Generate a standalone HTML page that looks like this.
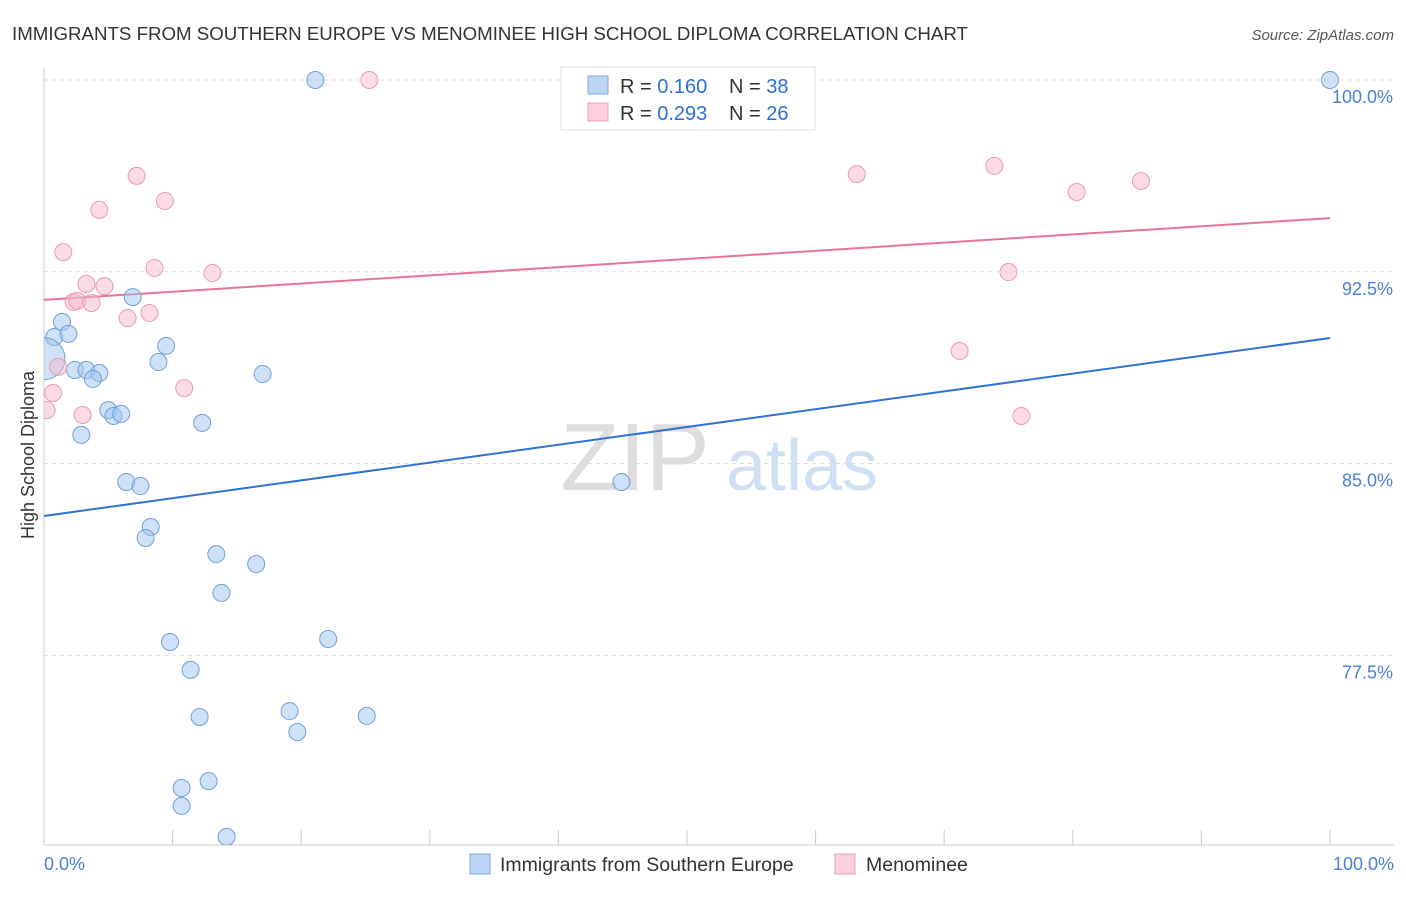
<!DOCTYPE html>
<html><head><meta charset="utf-8"><style>
body{margin:0;background:#fff;font-family:"Liberation Sans",sans-serif}
svg text{font-family:"Liberation Sans",sans-serif}
</style></head><body>
<svg width="1406" height="892" viewBox="0 0 1406 892" xmlns="http://www.w3.org/2000/svg">
<defs><clipPath id="plotclip"><rect x="44" y="0" width="1362" height="845"/></clipPath></defs>
<text x="12" y="40" font-size="18.7" fill="#333">IMMIGRANTS FROM SOUTHERN EUROPE VS MENOMINEE HIGH SCHOOL DIPLOMA CORRELATION CHART</text>
<text x="1394" y="40" font-size="15" fill="#555" font-style="italic" text-anchor="end">Source: ZipAtlas.com</text>
<g>
<text x="635" y="490" font-size="96" fill="#ddd" font-family="Liberation Serif,serif" text-anchor="middle">ZIP</text>
<text x="802" y="490" font-size="72" fill="#cfe0f5" text-anchor="middle">atlas</text>
</g>
<g id="grid"></g>
<line x1="44" y1="68" x2="44" y2="845" stroke="#ccc"/>
<line x1="44" y1="845" x2="1394" y2="845" stroke="#ccc"/>
<g id="xticks"></g>
<text x="44" y="870" font-size="18" fill="#4a7fd4">0.0%</text>
<text x="1394" y="870" font-size="18" fill="#4a7fd4" text-anchor="end">100.0%</text>
<text transform="translate(34,455) rotate(-90)" font-size="18" fill="#333" text-anchor="middle">High School Diploma</text>
<g id="lines"></g>
<g id="pts" clip-path="url(#plotclip)"></g>
<g>
<rect x="561" y="67" width="254" height="63" fill="#fff" stroke="#ddd"/>
<rect x="588" y="76" width="20" height="18" fill="#bcd5f5" stroke="#7aa8e0"/>
<text x="620" y="93" font-size="20" fill="#333">R = <tspan fill="#2f6fd4">0.160</tspan></text>
<text x="729" y="93" font-size="20" fill="#333">N = <tspan fill="#2f6fd4">38</tspan></text>
<rect x="588" y="103" width="20" height="18" fill="#fbcfdc" stroke="#eaa0b8"/>
<text x="620" y="120" font-size="20" fill="#333">R = <tspan fill="#2f6fd4">0.293</tspan></text>
<text x="729" y="120" font-size="20" fill="#333">N = <tspan fill="#2f6fd4">26</tspan></text>
</g>
<g>
<rect x="470" y="854" width="20" height="20" fill="#bcd5f5" stroke="#7aa8e0"/>
<text x="500" y="871" font-size="19.5" fill="#333">Immigrants from Southern Europe</text>
<rect x="835" y="854" width="20" height="20" fill="#fbcfdc" stroke="#eaa0b8"/>
<text x="866" y="871" font-size="19.5" fill="#333">Menominee</text>
</g>
</svg>
<script>
const yTicks=[100,92.5,85,77.5];
const yTickLabels=["100.0%","92.5%","85.0%","77.5%"];
const blueX=[21.1,100,0.8,1.4,1.9,0,2.4,3.3,4.3,3.8,6.9,9.5,8.9,17.0,5.0,5.4,6.0,2.9,12.3,6.4,7.5,44.9,8.3,7.9,13.4,16.5,13.8,9.8,22.1,11.4,12.1,19.1,19.7,25.1,10.7,12.8,10.7,14.2];
const blueY=[100,100,89.95,90.54,90.07,89.1,88.66,88.66,88.54,88.31,91.51,89.6,88.97,88.5,87.09,86.86,86.94,86.12,86.59,84.28,84.12,84.28,82.52,82.09,81.46,81.07,79.94,78.02,78.14,76.93,75.09,75.32,74.5,75.13,72.31,72.58,71.61,70.4];
const pinkX=[25.3,7.2,9.4,4.3,1.5,8.6,13.1,3.3,4.7,2.3,2.6,3.7,6.5,8.2,1.1,0.7,0.2,3.0,10.9,63.2,73.9,80.3,85.3,75.0,71.2,76.0];
const pinkY=[100,96.25,95.27,94.92,93.27,92.65,92.45,92.02,91.94,91.32,91.36,91.28,90.69,90.89,88.78,87.76,87.09,86.9,87.95,96.32,96.64,95.62,96.05,92.49,89.4,86.86];
const blueTrend=[82.95,89.91];
const pinkTrend=[91.40,94.60];
const NS="http://www.w3.org/2000/svg";
const sx=v=>44+v*12.86, sy=v=>80+(100-v)*25.57;
function mk(tag,attrs,parent){const e=document.createElementNS(NS,tag);for(const k in attrs)e.setAttribute(k,attrs[k]);parent.appendChild(e);return e;}
const grid=document.getElementById('grid');
yTicks.forEach((t,i)=>{
 const l=mk('line',{x1:44,x2:1394,y1:sy(t),y2:sy(t),stroke:'#ddd','stroke-dasharray':'4,4'},grid);
 
 
 const tx=mk('text',{x:1393,y:sy(t)+23,'font-size':18,fill:'#4a7fd4','text-anchor':'end'},grid);
 tx.textContent=yTickLabels[i];
 
 
});
const xt=document.getElementById('xticks');
for(let i=1;i<=10;i++){const l=mk('line',{x1:sx(i*10),x2:sx(i*10),y1:830,y2:845,stroke:'#ccc'},xt);
 
 }
const lines=document.getElementById('lines');
const bl=mk('line',{x1:sx(0),y1:sy(blueTrend[0]),x2:sx(100),y2:sy(blueTrend[1]),stroke:'#2f72d6','stroke-width':2},lines);


const pl=mk('line',{x1:sx(0),y1:sy(pinkTrend[0]),x2:sx(100),y2:sy(pinkTrend[1]),stroke:'#e8739a','stroke-width':2},lines);


const pts=document.getElementById('pts');
blueX.forEach((x,i)=>{const r=(i===5)?21:8.5;
 const c=mk('circle',{cx:sx(x),cy:sy(blueY[i]),r:r,fill:'rgba(160,195,240,0.5)',stroke:'#6f9fdc','stroke-width':1},pts);
 
 });
pinkX.forEach((x,i)=>{
 const c=mk('circle',{cx:sx(x),cy:sy(pinkY[i]),r:8.5,fill:'rgba(248,185,205,0.5)',stroke:'#e89ab4','stroke-width':1},pts);
 
 });
</script>
</body></html>
